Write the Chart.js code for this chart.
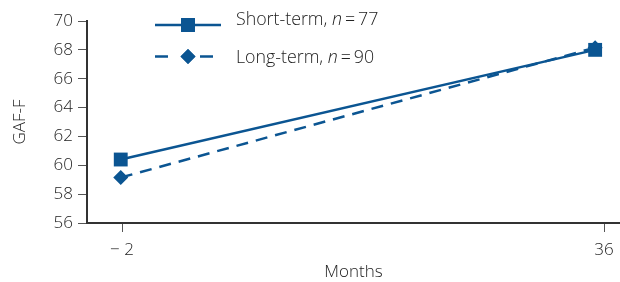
<!DOCTYPE html>
<html>
<head>
<meta charset="utf-8">
<script src="https://cdn.jsdelivr.net/npm/chart.js@4/dist/chart.umd.min.js"></script>
<style>
  html, body { margin: 0; padding: 0; background: #fff; }
  #wrap { width: 620px; height: 282px; position: relative; }
</style>
</head>
<body>
<div id="wrap"><canvas id="c" width="620" height="282"></canvas></div>
<script>
// Data
const monthsShort = [-2.1, 35.3];
const shortTerm = [60.4, 68.0];
const monthsLong = [-2.1, 35.3];
const longTerm = [59.15, 68.15];
const xTickValues = [-2, 36];
const xTickLabels = ['\u2212 2', '36'];
const seriesNames = ['Short-term, ', 'Long-term, '];
const seriesN = ['77', '90'];

const BLUE = '#0b5592';
const TEXT = '#222222';
const FONT = "'Open Sans', 'Liberation Sans', sans-serif";
const W = 300;

const legendPlugin = {
  id: 'customLegend',
  afterDraw(chart) {
    const ctx = chart.ctx;
    ctx.save();
    const rows = [
      { y: 25, ty: 25, segs: [[155, 221]], style: 'rect', r: 9.8, name: seriesNames[0], n: seriesN[0] },
      { y: 56.5, ty: 63, segs: [[155, 168], [200, 213]], style: 'rectRot', r: 7.5, name: seriesNames[1], n: seriesN[1] }
    ];
    rows.forEach(r => {
      ctx.strokeStyle = BLUE;
      ctx.lineWidth = 2.5;
      ctx.beginPath();
      r.segs.forEach(s => { ctx.moveTo(s[0], r.y); ctx.lineTo(s[1], r.y); });
      ctx.stroke();
      ctx.fillStyle = BLUE;
      Chart.helpers.drawPoint(ctx, { pointStyle: r.style, radius: r.r, borderWidth: 0 }, 188, r.y);
      ctx.fill();
      // text
      let x = 236;
      ctx.fillStyle = TEXT;
      ctx.textBaseline = 'alphabetic';
      ctx.font = W + ' 17.8px ' + FONT;
      ctx.fillText(r.name, x, r.ty);
      x += ctx.measureText(r.name).width;
      ctx.font = 'italic ' + W + ' 17.8px ' + FONT;
      ctx.fillText('n', x, r.ty);
      x += ctx.measureText('n').width;
      ctx.font = W + ' 17.8px ' + FONT;
      const rest = '\u2009=\u2009' + r.n;
      ctx.fillText(rest, x, r.ty);
    });
    ctx.restore();
  }
};

new Chart(document.getElementById('c'), {
  type: 'line',
  data: {
    datasets: [
      {
        label: 'Short-term',
        data: monthsShort.map((m, i) => ({ x: m, y: shortTerm[i] })),
        borderColor: BLUE,
        backgroundColor: BLUE,
        borderWidth: 2.5,
        pointStyle: 'rect',
        pointRadius: 9.8,
        pointBorderWidth: 0,
        fill: false,
        tension: 0,
        clip: false
      },
      {
        label: 'Long-term',
        data: monthsLong.map((m, i) => ({ x: m, y: longTerm[i] })),
        borderColor: BLUE,
        backgroundColor: BLUE,
        borderWidth: 2.5,
        borderDash: [12, 8],
        pointStyle: 'rectRot',
        pointRadius: 7.5,
        pointBorderWidth: 0,
        fill: false,
        tension: 0,
        clip: false
      }
    ]
  },
  options: {
    responsive: false,
    animation: false,
    devicePixelRatio: 1,
    layout: { autoPadding: false, padding: { top: 21, left: 0, right: 0, bottom: 0 } },
    plugins: { legend: { display: false }, tooltip: { enabled: false } },
    scales: {
      x: {
        type: 'linear',
        min: -4.76,
        max: 37.26,
        afterBuildTicks(scale) { scale.ticks = xTickValues.map(v => ({ value: v })); },
        afterFit(scale) { scale.height = 59; scale.paddingLeft = 0; scale.paddingRight = 0; },
        ticks: {
          color: TEXT,
          font: { family: FONT, size: 17, weight: W },
          padding: 8,
          maxRotation: 0,
          autoSkip: false,
          callback(v) { const i = xTickValues.indexOf(v); return i >= 0 ? xTickLabels[i] : ''; }
        },
        grid: { drawOnChartArea: false, drawTicks: true, tickLength: 9, color: '#555', lineWidth: 1 },
        border: { display: true, color: '#333', width: 2 },
        title: { display: true, text: 'Months', color: TEXT, font: { family: FONT, size: 17, weight: W }, padding: { top: 0, bottom: 0 } }
      },
      y: {
        min: 56,
        max: 70,
        afterFit(scale) { scale.width = 87; scale.paddingTop = 0; scale.paddingBottom = 0; },
        ticks: {
          stepSize: 2,
          color: TEXT,
          font: { family: FONT, size: 17, weight: W },
          padding: 5
        },
        grid: { drawOnChartArea: false, drawTicks: true, tickLength: 9, color: '#555', lineWidth: 1 },
        border: { display: true, color: '#333', width: 2 },
        title: { display: true, text: 'GAF-F', color: TEXT, font: { family: FONT, size: 17, weight: W }, padding: { top: 10, bottom: 0 } }
      }
    }
  },
  plugins: [legendPlugin]
});
</script>
</body>
</html>
